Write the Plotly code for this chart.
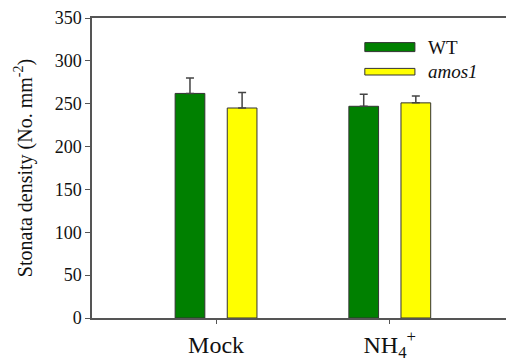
import plotly.graph_objects as go

categories = ["Mock", "NH<sub>4</sub><sup>+</sup>"]
wt_values = [262, 247]
wt_err = [18, 14]
amos_values = [245, 251]
amos_err = [18, 8]
series_names = ["WT", "<i>amos1</i>"]
y_ticks = [0, 50, 100, 150, 200, 250, 300, 350]

FONT = "Liberation Serif, Times New Roman, serif"
GREEN = "#008000"
YELLOW = "#FFFF00"
EDGE = "#333333"

fig = go.Figure()
fig.add_trace(go.Bar(
    x=categories, y=wt_values, name=series_names[0],
    marker=dict(color=GREEN, line=dict(color=EDGE, width=1)),
    error_y=dict(type="data", array=wt_err, arrayminus=[0, 0], symmetric=False,
                 color="#444444", thickness=1.5, width=4),
    showlegend=False,
))
fig.add_trace(go.Bar(
    x=categories, y=amos_values, name=series_names[1],
    marker=dict(color=YELLOW, line=dict(color=EDGE, width=1)),
    error_y=dict(type="data", array=amos_err, arrayminus=[0, 0], symmetric=False,
                 color="#444444", thickness=1.5, width=4),
    showlegend=False,
))

# legend drawn manually to match the wide flat swatches
legend_items = [
    (series_names[0], GREEN, 0.888, 0.918, 0.903),
    (series_names[1], YELLOW, 0.810, 0.832, 0.821),
]
shapes = []
annotations = []
for name, col, y0, y1, yc in legend_items:
    shapes.append(dict(type="rect", xref="paper", yref="paper",
                       x0=0.659, x1=0.780, y0=y0, y1=y1,
                       fillcolor=col, line=dict(color=EDGE, width=1)))
    annotations.append(dict(xref="paper", yref="paper", x=0.807, y=yc,
                            text=name, showarrow=False, xanchor="left",
                            yanchor="middle",
                            font=dict(family=FONT, size=19, color="#111111")))

fig.update_layout(
    width=506, height=361,
    margin=dict(l=92, r=0, t=18, b=43, autoexpand=False),
    paper_bgcolor="white", plot_bgcolor="white",
    barmode="group", bargap=0.4, bargroupgap=0.43,
    font=dict(family=FONT, color="#111111"),
    shapes=shapes, annotations=annotations,
    xaxis=dict(
        type="category", range=[-0.714, 1.669], automargin=False,
        showline=True, linecolor="#555555", linewidth=1.5, mirror=True,
        ticks="outside", ticklen=4, tickcolor="#555555", tickwidth=1,
        tickfont=dict(family=FONT, size=24, color="#111111"),
        showgrid=False, zeroline=False,
    ),
    yaxis=dict(
        range=[0, 350], tickvals=y_ticks, automargin=False,
        showline=True, linecolor="#555555", linewidth=1.5, mirror=True,
        ticks="outside", ticklen=5, tickcolor="#555555", tickwidth=1,
        tickfont=dict(family=FONT, size=18, color="#111111"),
        showgrid=False, zeroline=False,
        title=dict(text="Stonata density (No. mm<sup>-2</sup>)",
                   font=dict(family=FONT, size=20, color="#111111"),
                   standoff=17),
    ),
)

fig.write_html(
    "out.html",
    config={"displayModeBar": False},
    post_script="document.body.style.margin='0';document.body.style.padding='0';",
)
